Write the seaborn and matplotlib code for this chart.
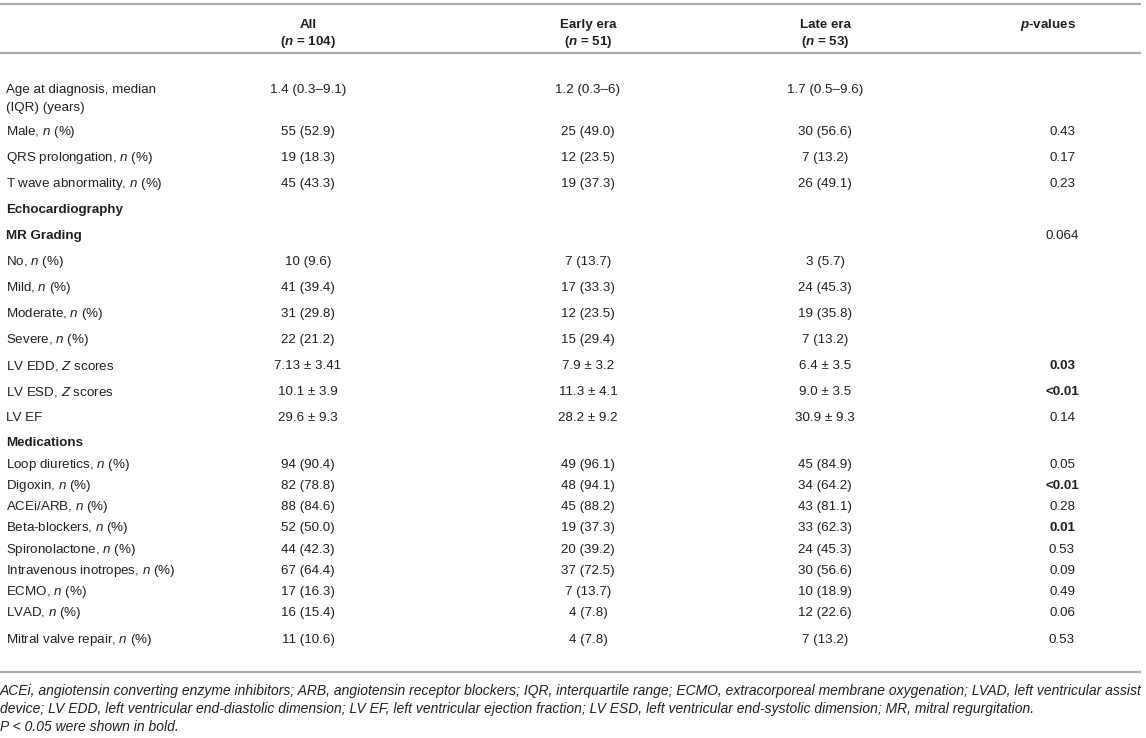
import matplotlib
matplotlib.use("Agg")
import matplotlib.pyplot as plt
import seaborn as sns
import re

# ---------------- data ----------------
header_titles = ["All", "Early era", "Late era"]
header_n = ["104", "51", "53"]
p_header = "{p}-values"

row_labels = [
    "Age at diagnosis, median\n(IQR) (years)",
    "Male, {n} (%)",
    "QRS prolongation, {n} (%)",
    "T wave abnormality, {n} (%)",
    "Echocardiography",
    "MR Grading",
    "No, {n} (%)",
    "Mild, {n} (%)",
    "Moderate, {n} (%)",
    "Severe, {n} (%)",
    "LV EDD, {Z} scores",
    "LV ESD, {Z} scores",
    "LV EF",
    "Medications",
    "Loop diuretics, {n} (%)",
    "Digoxin, {n} (%)",
    "ACEi/ARB, {n} (%)",
    "Beta-blockers, {n} (%)",
    "Spironolactone, {n} (%)",
    "Intravenous inotropes, {n} (%)",
    "ECMO, {n} (%)",
    "LVAD, {n} (%)",
    "Mitral valve repair, {n} (%)",
]
section_rows = ["Echocardiography", "MR Grading", "Medications"]

all_values = ["1.4 (0.3–9.1)", "55 (52.9)", "19 (18.3)", "45 (43.3)", "", "",
              "10 (9.6)", "41 (39.4)", "31 (29.8)", "22 (21.2)",
              "7.13 ± 3.41", "10.1 ± 3.9", "29.6 ± 9.3", "",
              "94 (90.4)", "82 (78.8)", "88 (84.6)", "52 (50.0)", "44 (42.3)",
              "67 (64.4)", "17 (16.3)", "16 (15.4)", "11 (10.6)"]
early_values = ["1.2 (0.3–6)", "25 (49.0)", "12 (23.5)", "19 (37.3)", "", "",
                "7 (13.7)", "17 (33.3)", "12 (23.5)", "15 (29.4)",
                "7.9 ± 3.2", "11.3 ± 4.1", "28.2 ± 9.2", "",
                "49 (96.1)", "48 (94.1)", "45 (88.2)", "19 (37.3)", "20 (39.2)",
                "37 (72.5)", "7 (13.7)", "4 (7.8)", "4 (7.8)"]
late_values = ["1.7 (0.5–9.6)", "30 (56.6)", "7 (13.2)", "26 (49.1)", "", "",
               "3 (5.7)", "24 (45.3)", "19 (35.8)", "7 (13.2)",
               "6.4 ± 3.5", "9.0 ± 3.5", "30.9 ± 9.3", "",
               "45 (84.9)", "34 (64.2)", "43 (81.1)", "33 (62.3)", "24 (45.3)",
               "30 (56.6)", "10 (18.9)", "12 (22.6)", "7 (13.2)"]
p_values = ["", "0.43", "0.17", "0.23", "", "0.064",
            "", "", "", "",
            "0.03", "<0.01", "0.14", "",
            "0.05", "<0.01", "0.28", "0.01", "0.53",
            "0.09", "0.49", "0.06", "0.53"]
p_bold = [False, False, False, False, False, False,
          False, False, False, False,
          True, True, False, False,
          False, True, False, True, False,
          False, False, False, False]

footnotes = [
    "ACEi, angiotensin converting enzyme inhibitors; ARB, angiotensin receptor blockers; IQR, interquartile range; ECMO, extracorporeal membrane oxygenation; LVAD, left ventricular assist",
    "device; LV EDD, left ventricular end-diastolic dimension; LV EF, left ventricular ejection fraction; LV ESD, left ventricular end-systolic dimension; MR, mitral regurgitation.",
    "P < 0.05 were shown in bold.",
]

# ---------------- layout ----------------
W, H = 1146, 738
row_gaps = [42, 26, 26, 26, 26, 26, 26, 26, 26, 26, 26, 26, 25,
            22, 21, 21, 21, 22, 21, 21, 21, 27]
first_row_y = 90
label_x = 6
col_x = [308, 588, 825]
p_x = 1062
p_head_x = 1048
rule_color = "#adadad"
text_color = "#231f20"
fs = 9.6
foot_fs = 10.0

sns.set_theme(style="white")
plt.rcParams['font.family'] = ['Liberation Sans', 'DejaVu Sans']
plt.rcParams['mathtext.fontset'] = 'custom'
plt.rcParams['mathtext.rm'] = 'Liberation Sans'
plt.rcParams['mathtext.it'] = 'Liberation Sans:italic'
plt.rcParams['mathtext.bf'] = 'Liberation Sans:bold'
try:
    plt.rcParams['mathtext.bfit'] = 'Liberation Sans:bold:italic'
except Exception:
    pass


def md(s, bold=False):
    cmd = r"\mathbfit" if bold else r"\mathit"
    return re.sub(r"\{(\w+)\}", lambda m: "$" + cmd + "{" + m.group(1) + "}$", s)


fig = plt.figure(figsize=(W / 100, H / 100), dpi=100)
ax = fig.add_axes([0, 0, 1, 1])
ax.set_xlim(0, W)
ax.set_ylim(H, 0)
ax.axis("off")

# rules
for yy in [4, 53, 672]:
    ax.plot([0, 1141], [yy, yy], color=rule_color, lw=1.6, solid_capstyle="butt")

# header
for x, t, n in zip(col_x, header_titles, header_n):
    ax.text(x, 25, t, ha="center", va="center", fontsize=fs, weight="bold", color=text_color)
    ax.text(x, 42, md("({n} = " + n + ")", bold=True), ha="center", va="center",
            fontsize=fs, weight="bold", color=text_color)
ax.text(p_head_x, 25, md(p_header, bold=True), ha="center", va="center",
        fontsize=fs, weight="bold", color=text_color)

# rows
ys = [first_row_y]
for g in row_gaps:
    ys.append(ys[-1] + g)

for i, lab in enumerate(row_labels):
    y = ys[i]
    is_sec = lab in section_rows
    lines = lab.split("\n")
    for k, ln in enumerate(lines):
        ax.text(label_x, y + 18 * k, md(ln), ha="left", va="center", fontsize=fs,
                weight="bold" if is_sec else "normal", color=text_color)
    for x, vals in zip(col_x, [all_values, early_values, late_values]):
        if vals[i]:
            ax.text(x, y, vals[i], ha="center", va="center", fontsize=fs, color=text_color)
    if p_values[i]:
        ax.text(p_x, y, p_values[i], ha="center", va="center", fontsize=fs,
                weight="bold" if p_bold[i] else "normal", color=text_color)

# footnotes
for k, ft in enumerate(footnotes):
    ax.text(0, 691 + 18 * k, ft, ha="left", va="center", fontsize=foot_fs,
            style="italic", color=text_color)

fig.savefig("out.png", dpi=100, facecolor="white")
